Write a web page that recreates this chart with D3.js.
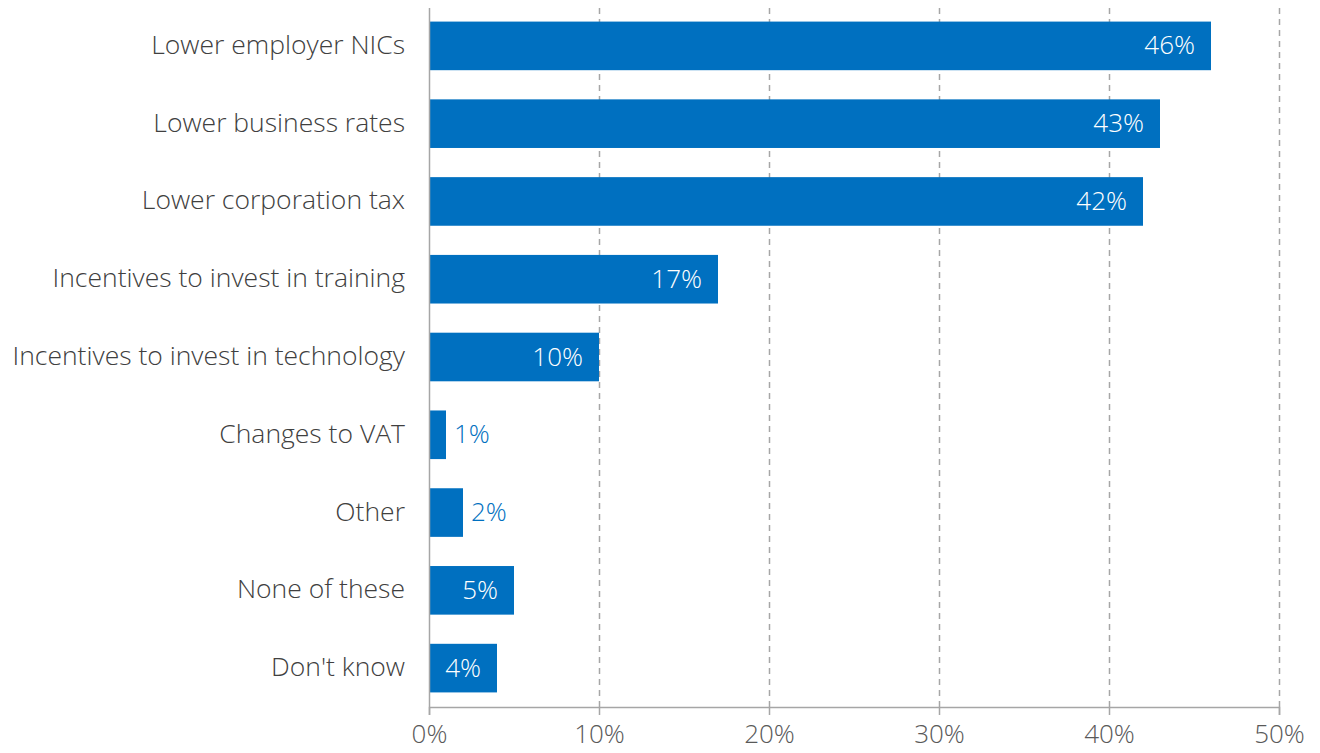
<!DOCTYPE html>
<html>
<head>
<meta charset="utf-8">
<script src="https://cdn.jsdelivr.net/npm/d3@7"></script>
<style>
  html, body { margin: 0; padding: 0; background: #fff; }
  svg { display: block; font-family: "Open Sans", Lato, sans-serif; font-weight: 300; }
</style>
</head>
<body>
<svg id="chart" width="1320" height="753"></svg>
<script>
// Survey responses: share of businesses choosing each tax measure
const categories = [
  "Lower employer NICs",
  "Lower business rates",
  "Lower corporation tax",
  "Incentives to invest in training",
  "Incentives to invest in technology",
  "Changes to VAT",
  "Other",
  "None of these",
  "Don't know"
];
const values = [46, 43, 42, 17, 10, 1, 2, 5, 4];
const tickValues = [0, 10, 20, 30, 40, 50];

const svg = d3.select("#chart");
const plotLeft = 429, plotRight = 1279, plotTop = 7, plotBottom = 707;
const barColor = "#0070C0";
const labelSize = "26.5px";
const valueSize = "26px";

const x = d3.scaleLinear().domain([0, 50]).range([plotLeft, plotRight]);
const y = d3.scaleBand()
  .domain(categories)
  .range([plotTop, plotBottom])
  .paddingInner(0.375)
  .paddingOuter(0.1875);

// Dashed vertical gridlines
svg.append("g")
  .selectAll("line")
  .data(tickValues.filter(d => d > 0))
  .join("line")
  .attr("x1", d => x(d) + 0.5).attr("x2", d => x(d) + 0.5)
  .attr("y1", 8).attr("y2", plotBottom)
  .attr("stroke", "#a6a6a6")
  .attr("stroke-width", 1.5)
  .attr("stroke-dasharray", "6,5");

// Bars
svg.append("g")
  .selectAll("rect")
  .data(values)
  .join("rect")
  .attr("x", x(0))
  .attr("y", (d, i) => y(categories[i]))
  .attr("width", d => x(d) - x(0))
  .attr("height", y.bandwidth())
  .attr("fill", barColor);

// Bottom axis
const xAxis = d3.axisBottom(x)
  .tickValues(tickValues)
  .tickFormat(d => d + "%")
  .tickSize(8)
  .tickPadding(10);
const gx = svg.append("g")
  .attr("transform", `translate(0,${plotBottom})`)
  .call(xAxis);
gx.select(".domain").attr("stroke", "#a6a6a6").attr("stroke-width", 1.5);
gx.selectAll(".tick line").attr("stroke", "#a6a6a6").attr("stroke-width", 1.5);
gx.selectAll(".tick text")
  .attr("fill", "#595959")
  .style("font-size", valueSize)
  .style("font-family", "'Open Sans', Lato, sans-serif")
  .style("font-weight", 300);

// Left axis line
svg.append("line")
  .attr("x1", plotLeft + 0.5).attr("x2", plotLeft + 0.5)
  .attr("y1", 8).attr("y2", plotBottom)
  .attr("stroke", "#a6a6a6")
  .attr("stroke-width", 1.5);

// Category labels
svg.append("g")
  .selectAll("text")
  .data(categories)
  .join("text")
  .attr("x", plotLeft - 24)
  .attr("y", d => y(d) + y.bandwidth() / 2)
  .attr("dy", "0.3em")
  .attr("text-anchor", "end")
  .attr("fill", "#404040")
  .style("font-size", labelSize)
  .text(d => d);

// Value labels: inside the bar when it is wide enough, otherwise just past its end
svg.append("g")
  .selectAll("text")
  .data(values)
  .join("text")
  .each(function(d, i) {
    const inside = d >= 4;
    d3.select(this)
      .attr("x", inside ? x(d) - 16 : x(d) + 8)
      .attr("y", y(categories[i]) + y.bandwidth() / 2)
      .attr("dy", "0.33em")
      .attr("text-anchor", inside ? "end" : "start")
      .attr("fill", inside ? "#ffffff" : barColor)
      .style("font-size", valueSize)
      .text(d + "%");
  });
</script>
</body>
</html>
